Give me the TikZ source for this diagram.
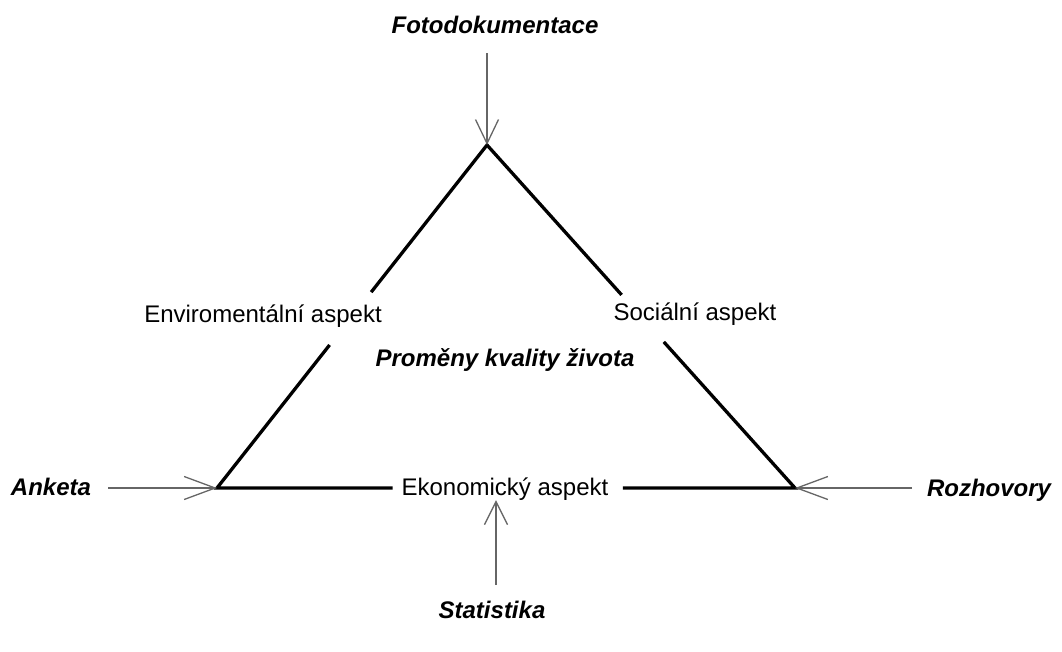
\documentclass[tikz,border=0pt]{standalone}
\usepackage{fontspec}
\setmainfont{Liberation Sans}
\usetikzlibrary{arrows.meta,calc}
\begin{document}
\begin{tikzpicture}[x=1pt,y=-1pt,
  edge/.style={draw=black, line width=3.3pt, line join=miter},
  arr/.style={draw=black!60, line width=1.3pt, -{Straight Barb[length=#1,width=23pt]}},
  arr/.default=26pt,
  lab/.style={font=\fontsize{24}{28}\selectfont, inner sep=0pt, anchor=base},
  meth/.style={font=\fontsize{24}{28}\selectfont\bfseries\itshape, inner sep=0pt, anchor=base}]
\useasboundingbox (0,0) rectangle (1062,651);
% corners
\coordinate (T) at (487,145);
\coordinate (L) at (217,488);
\coordinate (R) at (795,488);
% gap ends
\coordinate (e1) at ($(L)!0.417!(T)$);
\coordinate (e2) at ($(L)!0.571!(T)$);
\coordinate (s1) at ($(T)!0.437!(R)$);
\coordinate (s2) at ($(T)!0.574!(R)$);
\coordinate (b1) at ($(L)!0.304!(R)$);
\coordinate (b2) at ($(L)!0.702!(R)$);
% edges
\draw[edge] (e1) -- (L) -- (b1);
\draw[edge] (e2) -- (T) -- (s1);
\draw[edge] (b2) -- (R) -- (s2);
% labels
\node[lab] (env) at (263,322) {Enviromentální aspekt};
\node[lab] (soc) at (695,320) {Sociální aspekt};
\node[lab] (ek) at (505,495) {Ekonomický aspekt};
\node[meth] (prom) at (505,366) {Proměny kvality života};
\node[meth] (foto) at (495,33) {Fotodokumentace};
\node[meth] (anketa) at (51,495) {Anketa};
\node[meth] (roz) at (989,496) {Rozhovory};
\node[meth] (stat) at (492,618) {Statistika};
% arrows
\coordinate (fotoS) at (487,53);
\coordinate (anketaE) at (108,488);
\coordinate (rozW) at (912,488);
\coordinate (statN) at (496,585);
\draw[arr=24pt] (fotoS) -- (T);
\draw[arr=31pt] (anketaE) -- (L);
\draw[arr=31pt] (rozW) -- (R);
\draw[arr=23pt] (statN) -- (statN |- ek.south);
\end{tikzpicture}
\end{document}
